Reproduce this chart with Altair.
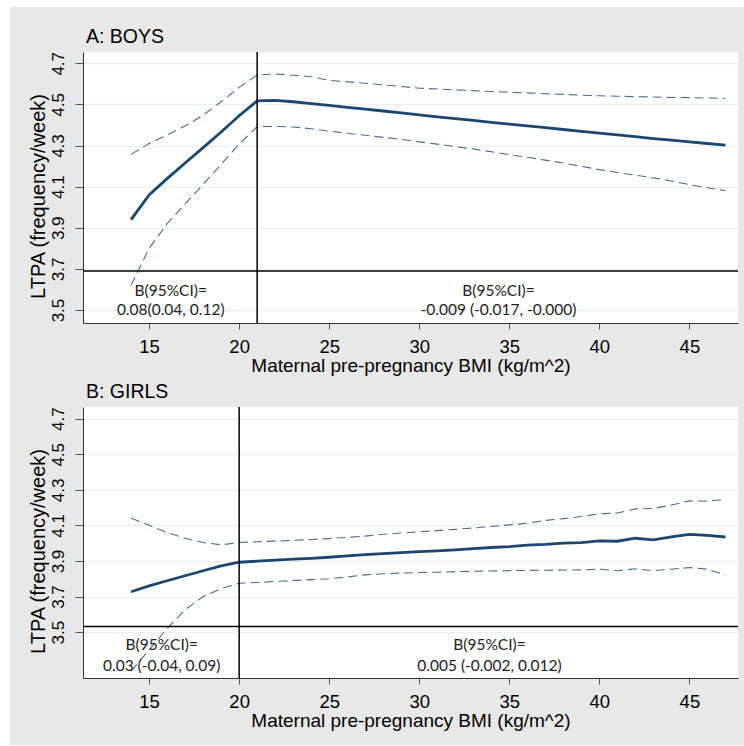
import altair as alt
import pandas as pd

# ---------------- data ----------------
bmi = list(range(14, 48))

boys_est = [3.94, 4.06, 4.139, 4.215, 4.29, 4.366, 4.445, 4.517, 4.52, 4.513,
            4.504, 4.495, 4.486, 4.477, 4.468, 4.459, 4.449, 4.44, 4.431, 4.422,
            4.413, 4.404, 4.396, 4.387, 4.378, 4.369, 4.36, 4.352, 4.343, 4.334,
            4.326, 4.318, 4.31, 4.302]
boys_hi = [4.257, 4.31, 4.351, 4.395, 4.448, 4.513, 4.583, 4.643, 4.648, 4.642,
           4.635, 4.617, 4.61, 4.603, 4.595, 4.587, 4.579, 4.575, 4.571, 4.567,
           4.563, 4.559, 4.556, 4.552, 4.549, 4.545, 4.542, 4.54, 4.538, 4.536,
           4.534, 4.533, 4.531, 4.53]
boys_lo = [3.62, 3.80, 3.92, 4.016, 4.111, 4.209, 4.307, 4.392, 4.393, 4.39,
           4.382, 4.37, 4.36, 4.35, 4.34, 4.33, 4.318, 4.307, 4.295, 4.283,
           4.27, 4.256, 4.243, 4.229, 4.215, 4.199, 4.183, 4.169, 4.156, 4.143,
           4.128, 4.11, 4.095, 4.08]

girls_est = [3.727, 3.76, 3.789, 3.817, 3.845, 3.873, 3.893, 3.899, 3.905, 3.91,
             3.915, 3.921, 3.929, 3.936, 3.942, 3.947, 3.953, 3.957, 3.963, 3.97,
             3.976, 3.981, 3.989, 3.993, 4.0, 4.003, 4.013, 4.011, 4.028, 4.019,
             4.035, 4.05, 4.044, 4.035]
girls_hi = [4.14, 4.101, 4.06, 4.028, 4.004, 3.991, 4.004, 4.008, 4.012, 4.016,
            4.021, 4.026, 4.033, 4.04, 4.05, 4.057, 4.064, 4.071, 4.078, 4.086,
            4.094, 4.103, 4.112, 4.128, 4.138, 4.15, 4.165, 4.17, 4.193, 4.195,
            4.215, 4.238, 4.236, 4.247]
girls_lo = [3.28, 3.40, 3.52, 3.626, 3.70, 3.745, 3.775, 3.779, 3.785, 3.79,
            3.795, 3.80, 3.81, 3.822, 3.828, 3.832, 3.835, 3.837, 3.84, 3.842,
            3.844, 3.846, 3.847, 3.848, 3.849, 3.85, 3.854, 3.845, 3.856, 3.845,
            3.854, 3.863, 3.854, 3.82]

x_ticks = [15, 20, 25, 30, 35, 40, 45]
y_ticks = [3.5, 3.7, 3.9, 4.1, 4.3, 4.5, 4.7]

boys_knot = 21
girls_knot = 20
boys_hline = 3.69
girls_hline = 3.532

boys_notes = [(16.2, 3.592, "B(95%CI)="), (16.2, 3.5, "0.08(0.04, 0.12)"),
              (34.4, 3.592, "B(95%CI)="), (34.4, 3.5, "-0.009 (-0.017, -0.000)")]
girls_notes = [(15.7, 3.427, "B(95%CI)="), (15.7, 3.311, "0.03 (-0.04, 0.09)"),
               (33.9, 3.427, "B(95%CI)="), (33.9, 3.311, "0.005 (-0.002, 0.012)")]

NAVY = "#1a476f"
DASH = "#4a6d96"
AX_FONT = "Liberation Sans"
X_DOMAIN = [11.33, 47.7]
ONE = pd.DataFrame({"a": [0]})


def white_rect(x1, x2, y1, y2):
    return alt.Chart(ONE).mark_rect(color="white").encode(
        x=alt.value(x1), x2=alt.value(x2), y=alt.value(y1), y2=alt.value(y2))


def panel(title, est, hi, lo, knot, hline, notes, ydom, frame):
    df = pd.DataFrame({"bmi": bmi, "est": est, "hi": hi, "lo": lo})
    xs = alt.Scale(domain=X_DOMAIN, nice=False, zero=False)
    ys = alt.Scale(domain=ydom, nice=False, zero=False)
    xax = alt.Axis(values=x_ticks, grid=False, title="Maternal pre-pregnancy BMI (kg/m^2)",
                   labelFontSize=18.5, titleFontSize=19, labelFont=AX_FONT, titleFont=AX_FONT,
                   titleFontWeight="normal", labelColor="black", titleColor="black",
                   tickSize=6, tickColor="#555555", domainColor="#333333",
                   labelPadding=8, titlePadding=1)
    yax = alt.Axis(values=y_ticks, grid=True, gridColor="#eaf2f3", gridWidth=1.5,
                   format=".1f", labelAngle=270, labelAlign="center", labelBaseline="bottom",
                   title="LTPA (frequency/week)", labelFontSize=17, titleFontSize=20,
                   labelFont=AX_FONT, titleFont=AX_FONT, titleFontWeight="normal",
                   labelColor="black", titleColor="black", tickSize=8,
                   tickColor="#555555", domainColor="#333333", labelPadding=8,
                   titlePadding=1, titleY=144)
    base = alt.Chart(df)
    ci_hi = base.mark_line(color=DASH, strokeWidth=1.1, strokeDash=[9, 5]).encode(
        x=alt.X("bmi:Q", scale=xs, axis=xax), y=alt.Y("hi:Q", scale=ys, axis=yax))
    ci_lo = base.mark_line(color=DASH, strokeWidth=1.1, strokeDash=[9, 5]).encode(
        x="bmi:Q", y="lo:Q")
    line = base.mark_line(color=NAVY, strokeWidth=2.8).encode(x="bmi:Q", y="est:Q")
    vr = alt.Chart(pd.DataFrame({"k": [knot]})).mark_rule(color="black", strokeWidth=1.5).encode(
        x="k:Q")
    hr = alt.Chart(pd.DataFrame({"h": [hline]})).mark_rule(color="black", strokeWidth=1.5).encode(
        y="h:Q")
    tdf = pd.DataFrame(notes, columns=["x", "y", "label"])
    txt = alt.Chart(tdf).mark_text(font="Lato", fontSize=15.5, color="#222222",
                                   align="center", baseline="middle").encode(
        x="x:Q", y="y:Q", text="label:N")
    ttl = alt.Chart(ONE).mark_text(font=AX_FONT, fontSize=19.5, color="black",
                                   align="left", baseline="alphabetic").encode(
        x=alt.value(3), y=alt.value(-8.7), text=alt.value(title))
    frames = [white_rect(*f) for f in frame]
    return alt.layer(*frames, ci_hi, ci_lo, line, vr, hr, txt, ttl).properties(
        width=655, height=271)


a = panel("A: BOYS", boys_est, boys_hi, boys_lo, boys_knot, boys_hline, boys_notes,
          [3.437, 4.755],
          frame=[(-83, -73, -52, 330), (-83, 661, -52, -45)])
b = panel("B: GIRLS", girls_est, girls_hi, girls_lo, girls_knot, girls_hline, girls_notes,
          [3.242, 4.766],
          frame=[(-83, -73, -25, 338)])

chart = alt.vconcat(a, b, spacing=0).properties(
    background="#e8e8e8",
    padding=0,
).configure_view(stroke=None, fill="white")

chart.save("out.html", embed_options={"renderer": "svg", "actions": False})
